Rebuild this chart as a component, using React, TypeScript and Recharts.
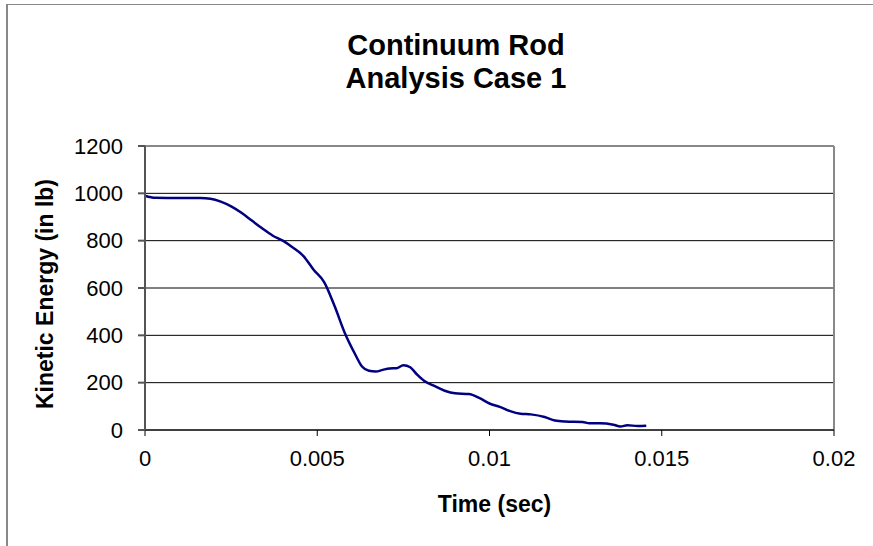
import React from 'react'
import {
  LineChart,
  Line,
  XAxis,
  YAxis,
  CartesianGrid,
  ReferenceLine,
} from 'recharts'

const TIME = [
  0, 0.0003, 0.001, 0.0016, 0.0019, 0.0022, 0.0025, 0.0028, 0.0031, 0.0034,
  0.0037, 0.004, 0.0043, 0.0046, 0.0049, 0.0052, 0.0055, 0.0058, 0.0061, 0.0063,
  0.0065, 0.0067, 0.0069, 0.0071, 0.0073, 0.0075, 0.0077, 0.0079, 0.0081, 0.0084,
  0.0087, 0.009, 0.0094, 0.0097, 0.01, 0.0103, 0.0106, 0.0109, 0.0112, 0.0116,
  0.0119, 0.0122, 0.0127, 0.0129, 0.0132, 0.0136, 0.0138, 0.014, 0.0143, 0.01455,
]

const ENERGY = [
  990, 981, 980, 980, 977, 965, 945, 918, 885, 852,
  822, 800, 770, 735, 676, 625, 525, 410, 320, 268,
  250, 247, 254, 260, 261, 274, 265, 234, 208, 186,
  166, 155, 152, 136, 112, 98, 80, 69, 66, 55,
  40, 36, 34, 28, 28, 22, 15, 20, 17, 18,
]

const X_TICKS = [0, 0.005, 0.01, 0.015, 0.02]
const Y_TICKS = [0, 200, 400, 600, 800, 1000, 1200]

const TITLE = ['Continuum Rod', 'Analysis Case 1']
const X_LABEL = 'Time (sec)'
const Y_LABEL = 'Kinetic Energy (in lb)'

const FONT = '"Liberation Sans", Arial, sans-serif'

const data = TIME.map((t, i) => ({ t, e: ENERGY[i] }))

// rotated y label, centred on the plot height
function YLabel(props: any) {
  const vb = props.viewBox || { x: 0, y: 146, width: 145, height: 284 }
  const cx = vb.x + 53
  const cy = vb.y + vb.height / 2 + 6
  return (
    <text
      x={cx}
      y={cy}
      transform={`rotate(-90, ${cx}, ${cy})`}
      textAnchor="middle"
      fill="#000"
      fontSize={23}
      fontWeight="bold"
      fontFamily={FONT}
    >
      {Y_LABEL}
    </text>
  )
}

export default function App() {
  return (
    <div
      style={{
        position: 'absolute',
        left: 0,
        top: 0,
        width: 873,
        height: 546,
        background: '#fff',
        overflow: 'hidden',
        fontFamily: FONT,
      }}
    >
      {/* outer chart frame, cropped on the right and bottom */}
      <div
        style={{
          position: 'absolute',
          left: 6,
          top: 4,
          width: 900,
          height: 600,
          borderLeft: '2px solid #888',
          borderTop: '1px solid #888',
        }}
      />
      <div
        style={{
          position: 'absolute',
          left: 256,
          top: 29,
          width: 400,
          textAlign: 'center',
          fontWeight: 'bold',
          fontSize: 29,
          lineHeight: '33px',
          color: '#000',
        }}
      >
        {TITLE.map((s) => (
          <div key={s}>{s}</div>
        ))}
      </div>
      <LineChart
        width={873}
        height={546}
        data={data}
        margin={{ top: 146, right: 39, bottom: 30, left: 0 }}
        style={{ position: 'absolute', left: 0, top: 0 }}
      >
        <CartesianGrid horizontal vertical={false} stroke="#000" strokeOpacity={1} />
        <XAxis
          dataKey="t"
          type="number"
          domain={[0, 0.02]}
          ticks={X_TICKS}
          height={86}
          stroke="#000"
          tickSize={6}
          tickMargin={14}
          tick={{ fill: '#000', fontSize: 22, fontFamily: FONT }}
          label={{
            value: X_LABEL,
            position: 'insideBottom',
            offset: 4,
            fill: '#000',
            fontSize: 23,
            fontWeight: 'bold',
            fontFamily: FONT,
            dx: 5,
          }}
        />
        <YAxis
          type="number"
          domain={[0, 1200]}
          ticks={Y_TICKS}
          width={145}
          stroke="#555"
          strokeWidth={2}
          tickSize={7}
          tickMargin={15}
          tick={{ fill: '#000', fontSize: 22, fontFamily: FONT }}
          label={<YLabel />}
        />
        <ReferenceLine y={1200} stroke="#888" strokeWidth={2} />
        <ReferenceLine x={0.02} stroke="#888" strokeWidth={2} />
        <Line
          dataKey="e"
          type="monotone"
          stroke="#000080"
          strokeWidth={2.5}
          dot={false}
          isAnimationActive={false}
        />
      </LineChart>
    </div>
  )
}
